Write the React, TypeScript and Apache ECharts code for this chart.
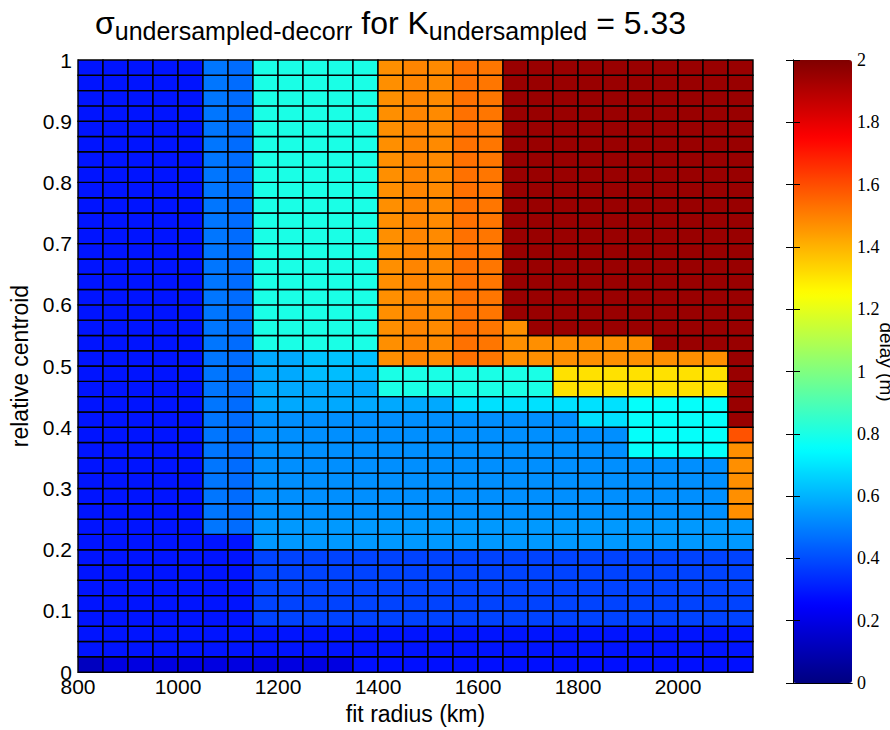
import React, { useEffect, useRef } from 'react';
import * as echarts from 'echarts';

// Cell edges (pcolor style: N edges -> N-1 cells)
const radiusEdges = [800, 850, 900, 950, 1000, 1050, 1100, 1150, 1200, 1250, 1300, 1350, 1400, 1450, 1500, 1550, 1600, 1650, 1700, 1750, 1800, 1850, 1900, 1950, 2000, 2050, 2100, 2150];
const centroidEdges = [0, 0.025, 0.05, 0.075, 0.1, 0.125, 0.15, 0.175, 0.2, 0.225, 0.25, 0.275, 0.3, 0.325, 0.35, 0.375, 0.4, 0.425, 0.45, 0.475, 0.5, 0.525, 0.55, 0.575, 0.6, 0.625, 0.65, 0.675, 0.7, 0.725, 0.75, 0.775, 0.8, 0.825, 0.85, 0.875, 0.9, 0.925, 0.95, 0.975, 1];

// delay (m) per row of cells, one value per radius cell (27 values)
const row00 = [0.125, 0.19, 0.19, 0.19, 0.19, 0.19, 0.19, 0.19, 0.19, 0.19, 0.19, 0.28, 0.28, 0.28, 0.28, 0.28, 0.28, 0.28, 0.28, 0.28, 0.28, 0.28, 0.28, 0.28, 0.28, 0.28, 0.28];
const row01 = [0.29, 0.29, 0.29, 0.29, 0.29, 0.29, 0.29, 0.29, 0.29, 0.29, 0.29, 0.29, 0.29, 0.29, 0.29, 0.29, 0.29, 0.29, 0.29, 0.29, 0.29, 0.29, 0.29, 0.29, 0.29, 0.29, 0.29];
const row03 = [0.29, 0.29, 0.29, 0.29, 0.29, 0.29, 0.29, 0.38, 0.38, 0.38, 0.38, 0.38, 0.38, 0.38, 0.38, 0.38, 0.38, 0.38, 0.38, 0.38, 0.38, 0.38, 0.38, 0.38, 0.38, 0.38, 0.38];
const row08 = [0.29, 0.29, 0.29, 0.29, 0.29, 0.29, 0.29, 0.55, 0.55, 0.55, 0.55, 0.55, 0.55, 0.55, 0.55, 0.55, 0.55, 0.55, 0.55, 0.55, 0.55, 0.55, 0.55, 0.55, 0.55, 0.55, 0.55];
const row09 = [0.29, 0.29, 0.29, 0.29, 0.29, 0.48, 0.46, 0.55, 0.55, 0.55, 0.55, 0.55, 0.55, 0.55, 0.55, 0.55, 0.55, 0.55, 0.55, 0.55, 0.55, 0.55, 0.55, 0.55, 0.55, 0.55, 0.55];
const row10 = [0.29, 0.29, 0.29, 0.29, 0.29, 0.48, 0.46, 0.53, 0.53, 0.53, 0.53, 0.53, 0.53, 0.53, 0.53, 0.53, 0.53, 0.53, 0.53, 0.53, 0.53, 0.53, 0.53, 0.53, 0.53, 0.53, 1.47];
const row14 = [0.29, 0.29, 0.29, 0.29, 0.29, 0.48, 0.46, 0.53, 0.53, 0.53, 0.53, 0.53, 0.53, 0.53, 0.53, 0.53, 0.53, 0.53, 0.53, 0.53, 0.53, 0.53, 0.76, 0.76, 0.76, 0.76, 1.47];
const row15 = [0.29, 0.29, 0.29, 0.29, 0.29, 0.48, 0.46, 0.53, 0.53, 0.53, 0.53, 0.53, 0.53, 0.53, 0.53, 0.53, 0.53, 0.53, 0.53, 0.53, 0.53, 0.53, 0.76, 0.76, 0.76, 0.76, 1.59];
const row16 = [0.29, 0.29, 0.29, 0.29, 0.29, 0.48, 0.46, 0.53, 0.53, 0.53, 0.53, 0.53, 0.53, 0.53, 0.53, 0.53, 0.53, 0.53, 0.53, 0.53, 0.69, 0.69, 0.76, 0.76, 0.76, 0.76, 1.95];
const row17 = [0.29, 0.29, 0.29, 0.29, 0.29, 0.48, 0.46, 0.58, 0.58, 0.58, 0.58, 0.58, 0.58, 0.58, 0.58, 0.69, 0.69, 0.69, 0.69, 0.69, 0.69, 0.69, 0.76, 0.76, 0.76, 0.76, 1.95];
const row18 = [0.29, 0.29, 0.29, 0.29, 0.29, 0.48, 0.46, 0.58, 0.58, 0.58, 0.58, 0.58, 0.8, 0.8, 0.8, 0.8, 0.8, 0.8, 0.8, 1.31, 1.31, 1.31, 1.31, 1.31, 1.31, 1.31, 1.95];
const row19 = [0.29, 0.29, 0.29, 0.29, 0.29, 0.48, 0.46, 0.58, 0.58, 0.62, 0.62, 0.62, 0.8, 0.8, 0.8, 0.8, 0.8, 0.8, 0.8, 1.31, 1.31, 1.31, 1.31, 1.31, 1.31, 1.31, 1.95];
const row20 = [0.29, 0.29, 0.29, 0.29, 0.29, 0.48, 0.46, 0.58, 0.58, 0.63, 0.63, 0.63, 1.47, 1.49, 1.48, 1.53, 1.52, 1.47, 1.47, 1.47, 1.47, 1.47, 1.47, 1.47, 1.47, 1.47, 1.95];
const row21 = [0.29, 0.29, 0.29, 0.29, 0.29, 0.48, 0.46, 0.8, 0.8, 0.8, 0.8, 0.8, 1.47, 1.49, 1.48, 1.53, 1.52, 1.47, 1.47, 1.47, 1.47, 1.47, 1.47, 1.95, 1.95, 1.95, 1.95];
const row22 = [0.29, 0.29, 0.29, 0.29, 0.29, 0.48, 0.46, 0.8, 0.8, 0.8, 0.8, 0.8, 1.47, 1.49, 1.48, 1.53, 1.52, 1.47, 1.95, 1.95, 1.95, 1.95, 1.95, 1.95, 1.95, 1.95, 1.95];
const rowTop = [0.29, 0.29, 0.29, 0.29, 0.29, 0.48, 0.46, 0.8, 0.8, 0.8, 0.8, 0.8, 1.47, 1.49, 1.48, 1.53, 1.52, 1.95, 1.95, 1.95, 1.95, 1.95, 1.95, 1.95, 1.95, 1.95, 1.95];

// rows from centroid 0 (bottom) to 1 (top)
const delayRows = [
  row00, row01, row01, row03, row03, row03, row03, row03, row08, row09,
  row10, row10, row10, row10, row14, row15, row16, row17, row18, row19,
  row20, row21, row22, rowTop, rowTop, rowTop, rowTop, rowTop, rowTop, rowTop,
  rowTop, rowTop, rowTop, rowTop, rowTop, rowTop, rowTop, rowTop, rowTop, rowTop,
];

const jetColors = ['#000080', '#0000ff', '#0080ff', '#00ffff', '#80ff80', '#ffff00', '#ff8000', '#ff0000', '#800000'];

const SANS = 'Liberation Sans, Arial, Helvetica, sans-serif';
const SERIF = 'Liberation Serif, Times New Roman, serif';

export default function App() {
  const ref = useRef<HTMLDivElement>(null);
  useEffect(() => {
    document.body.style.margin = '0';
    if (!ref.current) return;
    const chart = echarts.init(ref.current, null, { renderer: 'svg' });

    const cells: number[][] = [];
    delayRows.forEach((row, r) => {
      row.forEach((v, c) => {
        cells.push([radiusEdges[c], centroidEdges[r], v, radiusEdges[c + 1], centroidEdges[r + 1]]);
      });
    });

    const option: any = {
      animation: false,
      backgroundColor: '#ffffff',
      title: {
        text: '{m|σ}{sub|undersampled-decorr}{m| for K}{sub|undersampled}{m| = 5.33}',
        left: 95,
        top: 7,
        padding: 0,
        textStyle: {
          fontWeight: 'normal',
          rich: {
            m: { fontSize: 32, fontWeight: 'normal', fontFamily: SANS, color: '#000', lineHeight: 40, verticalAlign: 'top' },
            sub: { fontSize: 25, fontWeight: 'normal', fontFamily: SANS, color: '#000', lineHeight: 40, verticalAlign: 'top', padding: [11, 0, 0, 0] },
          },
        },
      },
      grid: [
        { left: 78, top: 60, width: 675, height: 623 },
        { left: 793, top: 60, width: 59, height: 623 },
      ],
      xAxis: [
        {
          type: 'value', gridIndex: 0, min: 800, max: 2150, interval: 200,
          axisLine: { show: true, lineStyle: { color: '#000', width: 1 } },
          axisTick: { show: false }, splitLine: { show: false },
          axisLabel: { showMaxLabel: false, color: '#000', fontSize: 21, fontFamily: SANS, margin: 4, formatter: (v: number) => String(v) },
          name: 'fit radius (km)', nameLocation: 'middle', nameGap: 24,
          nameTextStyle: { fontSize: 23, fontFamily: SANS, color: '#000' },
        },
        {
          type: 'value', gridIndex: 1, min: 0, max: 1, position: 'bottom', z: 5,
          axisLine: { show: true, lineStyle: { color: '#000' } },
          axisTick: { show: false }, axisLabel: { show: false }, splitLine: { show: false },
        },
        {
          type: 'value', gridIndex: 1, min: 0, max: 1, position: 'top', z: 5,
          axisLine: { show: true, lineStyle: { color: '#000' } },
          axisTick: { show: false }, axisLabel: { show: false }, splitLine: { show: false },
        },
      ],
      yAxis: [
        {
          type: 'value', gridIndex: 0, min: 0, max: 1, interval: 0.1,
          axisLine: { show: true, lineStyle: { color: '#000', width: 1 } },
          axisTick: { show: false }, splitLine: { show: false },
          axisLabel: { color: '#000', fontSize: 21, fontFamily: SANS, margin: 6 },
          name: 'relative centroid', nameLocation: 'middle', nameGap: 36,
          nameTextStyle: { fontSize: 23, fontFamily: SANS, color: '#000' },
        },
        {
          type: 'value', gridIndex: 1, min: 0, max: 2, interval: 0.2, position: 'left', z: 5,
          axisLine: { show: true, lineStyle: { color: '#000' } },
          axisTick: { show: true, inside: true, length: 7, lineStyle: { color: '#000' } },
          axisLabel: { show: false }, splitLine: { show: false },
        },
        {
          type: 'value', gridIndex: 1, min: 0, max: 2, interval: 0.2, position: 'right', z: 5,
          axisLine: { show: true, lineStyle: { color: '#000' } },
          axisTick: { show: true, inside: true, length: 7, lineStyle: { color: '#000' } },
          axisLabel: { color: '#000', fontSize: 18, fontFamily: SERIF, margin: 5 },
          splitLine: { show: false },
        },
      ],
      visualMap: {
        type: 'continuous', min: 0, max: 2, dimension: 2, seriesIndex: 0,
        inRange: { color: jetColors },
        show: true, calculable: false, orient: 'vertical',
        left: 793, top: 60, itemWidth: 59, itemHeight: 623, padding: 0, z: 1,
        hoverLink: false,
      },
      graphic: [
        {
          type: 'text', x: 886, y: 362, rotation: -Math.PI / 2,
          style: { text: 'delay (m)', fontSize: 19, fontFamily: SANS, fill: '#000', align: 'center', verticalAlign: 'middle' },
        },
      ],
      series: [
        {
          type: 'custom',
          xAxisIndex: 0, yAxisIndex: 0,
          encode: { x: [0, 3], y: [1, 4] },
          data: cells,
          renderItem: (params: any, api: any) => {
            const p1 = api.coord([api.value(0), api.value(4)]);
            const p2 = api.coord([api.value(3), api.value(1)]);
            return {
              type: 'rect',
              shape: { x: p1[0], y: p1[1], width: p2[0] - p1[0], height: p2[1] - p1[1] },
              style: { fill: api.visual('color'), stroke: '#000', lineWidth: 1.4 },
            };
          },
        },
      ],
    };
    chart.setOption(option);
    return () => chart.dispose();
  }, []);
  return <div ref={ref} style={{ width: 890, height: 730 }} />;
}
